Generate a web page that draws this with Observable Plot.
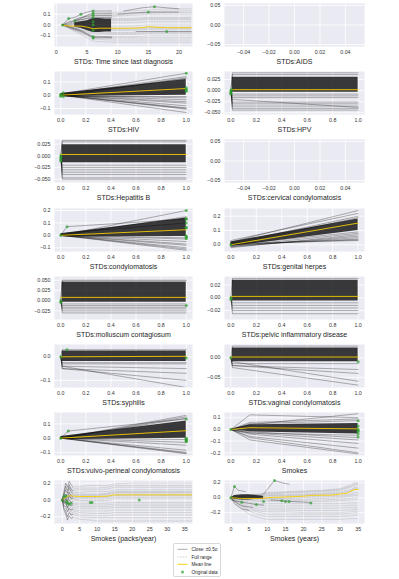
<!DOCTYPE html>
<html><head><meta charset="utf-8">
<script src="https://cdn.jsdelivr.net/npm/d3@7"></script>
<script src="https://cdn.jsdelivr.net/npm/@observablehq/plot@0.6"></script>
<style>
html,body{margin:0;padding:0;background:#fff}
#root{position:relative;width:399px;height:579px;overflow:hidden;font-family:"Liberation Sans",Arial,sans-serif;color:#262626}
.panel{position:absolute}
.legend{position:absolute;left:173px;top:543px;width:48px;height:34px;box-sizing:border-box;border:0.6px solid #d8d8d8;border-radius:2px;background:#fff}
</style></head>
<body><div id="root"></div>
<script>
// ---------------- DATA ----------------
// Panel: STDs: Time since last diagnosis
const timeGrid = [1,2,3,4,5,6,9,12,15,18,22];
const timeFull = [
  [0,0.02,0.04,0.07,0.09,0.10,0.11,0.13,0.14,0.15,0.15],
  [0,0.02,0.03,0.05,0.07,0.09,0.10,0.11,0.12,0.13,0.13],
  [0,0.015,0.035,0.05,0.065,0.08,0.09,0.10,0.11,0.115,0.115],
  [0,0.01,0.03,0.04,0.06,0.07,0.08,0.09,0.10,0.10,0.10],
  [0,0.01,0.02,0.03,0.04,0.05,0.06,0.06,0.07,0.07,0.07],
  [0,0.005,0.015,0.02,0.025,0.04,0.05,0.05,0.06,0.06,0.06],
  [0,0.01,0.01,0.02,0.03,0.03,0.04,0.04,0.05,0.05,0.05],
  [0,0.00,0.01,0.01,0.01,0.02,0.02,0.02,0.03,0.03,0.03],
  [0,0.00,0.00,0.00,0.00,-0.01,-0.01,-0.01,0.00,0.00,0.00],
  [0,-0.01,-0.01,-0.02,-0.02,-0.03,-0.03,-0.03,-0.02,-0.02,-0.02],
  [0,-0.005,-0.015,-0.025,-0.03,-0.04,-0.04,-0.04,-0.03,-0.03,-0.03],
  [0,-0.01,-0.02,-0.03,-0.04,-0.05,-0.05,-0.05,-0.04,-0.04,-0.04],
  [0,-0.01,-0.03,-0.04,-0.05,-0.06,-0.07,-0.07,-0.06,-0.06,-0.06],
  [0,-0.015,-0.035,-0.05,-0.06,-0.07,-0.08,-0.08,-0.07,-0.07,-0.07],
  [0,-0.02,-0.04,-0.05,-0.07,-0.08,-0.09,-0.09,-0.08,-0.08,-0.08],
  [0,-0.02,-0.04,-0.06,-0.08,-0.10,-0.11,-0.11,-0.10,-0.10,-0.10],
  [0,-0.03,-0.05,-0.07,-0.09,-0.11,-0.12,-0.12,-0.12,-0.12,-0.12],
  [0,-0.025,-0.05,-0.08,-0.10,-0.13,-0.14,-0.14,-0.14,-0.14,-0.14],
  [0,-0.03,-0.06,-0.09,-0.12,-0.15,-0.16,-0.16,-0.16,-0.16,-0.16]
];
const timeClose = [
  [[1,0],[2,0.06],[3,0.07],[4,0.10],[5,0.12],[6,0.13],[7,0.13],[9,0.13]],
  [[1,0],[2,0.03],[3,0.04],[4,0.06],[5,0.09],[6,0.11],[7,0.11],[9,0.11]],
  [[3,0.05],[4,0.07],[5,0.08],[6,0.09],[7,0.09],[9,0.09]],
  [[3,0.04],[4,0.05],[5,0.06],[6,0.07],[7,0.07],[9,0.07]],
  [[1,0],[2,-0.01],[3,-0.03],[4,-0.05],[5,-0.08],[6,-0.11],[7,-0.11],[9,-0.11]],
  [[1,0],[2,-0.02],[3,-0.04],[4,-0.06],[5,-0.09],[6,-0.12],[7,-0.12],[9,-0.12]],
  [[10,0.10],[12,0.11],[15,0.12],[18,0.12],[20,0.12]],
  [[11,0.13],[14,0.16],[16,0.17],[18,0.16],[20,0.15]],
  [[13,-0.06],[16,-0.06],[18,-0.06],[22,-0.06]]
];
const timeBandX  = [3,4,5,6,7,8,9];
const timeBandLo = [-0.02,-0.03,-0.05,-0.07,-0.07,-0.065,-0.065];
const timeBandHi = [0.02,0.03,0.04,0.06,0.06,0.055,0.055];
const timeMean = [[1,0],[2,-0.01],[3,-0.01],[4,-0.01],[5,-0.02],[6,-0.035],[7,-0.03],[9,-0.03],[12,-0.03],[14,-0.025],[15,-0.015],[16,-0.02],[18,-0.025],[22,-0.025]];
const timeDots = [[1,0],[2,0.06],[3,0.04],[4,0.10],[6,0.13],[6,0.11],[6,0.09],[6,0.07],[6,0.03],[6,0],[6,-0.05],[6,-0.11],[6,-0.12],[15,0.12],[16,0.17],[18,-0.06]];

// Binary features: straight ICE lines from x=0 to x=1
const hivStart = [0.01,0.005,0,-0.005,-0.01,0,0,0,0,0,0,0,0,0];
const hivEnd   = [0.165,0.14,0.13,0.125,-0.01,-0.02,-0.035,-0.05,-0.06,-0.08,-0.095,-0.10,-0.105,-0.13];
const hivBandLo = [-0.01,0.0];
const hivBandHi = [0.012,0.118];
const hivMean = [[0,0],[1,0.05]];
const hivDots = [[0,0.005],[0,0],[0,-0.008],[0.02,0.018],[0.02,-0.01],[1,0.165],[1,0.055],[1,0.045],[1,0.035],[1,0.03]];

const hpvLevel = [0.04,0.036,-0.008,-0.012,-0.016,-0.02,-0.026,-0.03,-0.035,-0.04,-0.044];
const hpvEnd   = [0.04,0.036,-0.008,-0.012,-0.016,-0.038,-0.026,-0.03,-0.035,-0.04,-0.044];
const hpvBandLo = [-0.004,-0.004];
const hpvBandHi = [0.03,0.03];
const hpvMean = [[0,0.002],[1,0.002]];
const hpvDots = [[0,0],[0,-0.003],[0,-0.006],[0,-0.008],[0.005,0.002]];

const hepLevel = [0.033,0.03,-0.02,-0.025,-0.03,-0.035,-0.04,-0.047,-0.05];
const hepEnd   = [0.033,0.03,-0.02,-0.025,-0.03,-0.035,-0.04,-0.047,-0.05];
const hepBandLo = [-0.015,-0.015];
const hepBandHi = [0.024,0.024];
const hepMean = [[0,0.003],[1,0.003]];
const hepDots = [[0,0],[0,-0.004],[0,-0.008],[0,-0.011]];

const condStart = [0,0,0,0,0,0,0,0,0,0];
const condEnd   = [0.2,0.15,-0.02,-0.03,-0.05,-0.07,-0.08,-0.1,-0.11,-0.12];
const condBandLo = [-0.012,-0.01];
const condBandHi = [0.012,0.14];
const condKink = [[[0,0],[0.05,0.07],[1,0.13]],[[0,0],[0.05,0.02],[1,0.1]]];
const condMean = [[0,0],[1,0.045]];
const condDots = [[0,0],[0.05,0.07],[1,0.2],[1,0.135],[1,0.13],[1,0.1],[1,0.065],[1,0.06],[1,-0.005],[1,-0.01],[1,-0.02],[1,-0.025]];

const herpStart = [0.02,0.03,0.01,0,0,-0.01,-0.02,-0.015,-0.01,0,0.01,0];
const herpEnd   = [0.24,0.22,0.2,0.19,0.09,0.08,0.07,0.06,0.05,0.04,0.03,0.035];
const herpBandLo = [-0.012,0.1];
const herpBandHi = [0.02,0.18];
const herpMean = [[0,0],[1,0.152]];
const herpDots = [[0,0]];

const mollLevel = [0.05,0.048,-0.008,-0.012,-0.016,-0.02,-0.025,-0.03];
const mollEnd   = [0.05,0.048,-0.008,-0.012,-0.016,-0.02,-0.025,-0.03];
const mollBandLo = [-0.004,-0.004];
const mollBandHi = [0.045,0.045];
const mollMean = [[0,0.008],[1,0.008]];
const mollDots = [[0,0],[0,-0.004],[1,-0.012]];

const pelvLevel = [0.03,-0.008,-0.012,-0.016,-0.02,-0.025];
const pelvEnd   = [0.03,-0.008,-0.012,-0.016,-0.02,-0.025];
const pelvBandLo = [-0.005,-0.005];
const pelvBandHi = [0.027,0.027];
const pelvMean = [[0,0.002],[1,0.002]];
const pelvDots = [[0,0],[0,-0.003]];

const syphLevel = [0.03,-0.025,-0.03,-0.04,-0.05,-0.05,-0.04];
const syphEnd   = [0.03,-0.025,-0.03,-0.05,-0.07,-0.1,-0.13];
const syphBandLo = [-0.02,-0.02];
const syphBandHi = [0.025,0.025];
const syphMean = [[0,0],[1,0.002]];
const syphDots = [[0,0],[0.05,0.03],[1,-0.005]];

const vagLevel = [0.03,-0.015,-0.02,-0.02,-0.01,-0.025];
const vagEnd   = [0.03,-0.015,-0.03,-0.04,-0.06,-0.07];
const vagBandLo = [-0.01,-0.01];
const vagBandHi = [0.025,0.025];
const vagMean = [[0,0.002],[1,0.002]];
const vagDots = [[0,0],[1,-0.01]];

const vulvStart = [0,0,0,0,0,0,0,0,0,0];
const vulvEnd   = [0.16,0.15,0.14,-0.01,-0.03,-0.05,-0.085,-0.1,-0.11,-0.105];
const vulvBandLo = [-0.01,0.0];
const vulvBandHi = [0.012,0.12];
const vulvKink = [[[0,0],[0.06,0.05],[1,0.135]]];
const vulvMean = [[0,0],[1,0.052]];
const vulvDots = [[0,0],[0.06,0.05],[1,0.135],[1,0],[1,-0.005],[1,-0.01],[1,-0.015],[1,-0.02],[1,-0.025]];

// Smokes (kink at 0.15)
const smokeX = [0,0.15,1];
const smokeLines = [
  [0,0.125,0.1],[0,0.04,0.135],[0,0.06,0.09],[0,0.05,0.075],[0,-0.02,-0.07],
  [0,-0.03,-0.09],[0,-0.04,-0.12],[0,-0.06,-0.16],[0,-0.07,-0.2],[0,-0.09,-0.21],[0,-0.03,-0.05]
];
const smokeBandLo = [0,-0.02,-0.04];
const smokeBandHi = [0,0.04,0.05];
const smokeMean = [[0,0],[0.15,0.015],[1,0.005]];
const smokeDots = [[0,0],[1,0.075],[1,0.03],[1,0],[1,-0.01],[1,-0.02],[1,-0.04],[1,-0.065]];

// Smokes (packs/year)
const packGrid = [0,1,2,3,5,8,10,13,15,20,25,30,37];
const packFull = [
  [0,0.05,0.12,0.15,0.16,0.17,0.17,0.17,0.19,0.2,0.2,0.2,0.2],
  [0,0.04,0.1,0.13,0.14,0.14,0.14,0.15,0.17,0.17,0.17,0.17,0.17],
  [0,0.04,0.09,0.11,0.12,0.12,0.12,0.13,0.15,0.15,0.15,0.15,0.15],
  [0,0.03,0.07,0.09,0.09,0.1,0.1,0.1,0.12,0.12,0.12,0.12,0.12],
  [0,0.03,0.06,0.07,0.07,0.07,0.07,0.08,0.1,0.1,0.1,0.1,0.1],
  [0,0.02,0.05,0.06,0.06,0.06,0.06,0.07,0.09,0.09,0.09,0.09,0.09],
  [0,0.02,0.04,0.05,0.05,0.05,0.05,0.06,0.08,0.08,0.08,0.08,0.08],
  [0,0.01,0.03,0.03,0.03,0.03,0.03,0.04,0.06,0.06,0.06,0.06,0.06],
  [0,0.01,0.02,0.02,0.02,0.02,0.02,0.03,0.05,0.05,0.05,0.05,0.05],
  [0,0,0.01,0.01,0,0,0,0.01,0.03,0.03,0.03,0.03,0.03],
  [0,0,0,0,-0.01,-0.01,-0.01,-0.01,0.01,0.01,0.01,0.01,0.01],
  [0,-0.01,-0.03,-0.04,-0.04,-0.04,-0.04,-0.04,-0.03,-0.03,-0.03,-0.03,-0.03],
  [0,-0.02,-0.04,-0.05,-0.06,-0.06,-0.06,-0.06,-0.05,-0.05,-0.05,-0.05,-0.05],
  [0,-0.02,-0.05,-0.07,-0.08,-0.08,-0.08,-0.08,-0.07,-0.07,-0.07,-0.07,-0.07],
  [0,-0.03,-0.06,-0.09,-0.1,-0.1,-0.1,-0.1,-0.09,-0.09,-0.09,-0.09,-0.09],
  [0,-0.03,-0.08,-0.11,-0.13,-0.13,-0.13,-0.13,-0.12,-0.12,-0.12,-0.12,-0.12],
  [0,-0.04,-0.1,-0.13,-0.15,-0.16,-0.16,-0.16,-0.15,-0.15,-0.15,-0.15,-0.15],
  [0,-0.04,-0.11,-0.15,-0.18,-0.19,-0.19,-0.19,-0.18,-0.18,-0.18,-0.18,-0.18],
  [0,-0.05,-0.12,-0.17,-0.2,-0.21,-0.21,-0.21,-0.21,-0.21,-0.21,-0.21,-0.21],
  [0,-0.05,-0.14,-0.2,-0.23,-0.24,-0.25,-0.25,-0.25,-0.25,-0.25,-0.25,-0.25]
];
const packCloseGrid = [0,0.5,1,1.5,2,2.5,3];
const packClose = [
  [0,0.1,0.2,0.15,0.22,0.18,0.16],
  [0,0.07,0.16,0.11,0.18,0.13,0.11],
  [0,0.05,0.12,0.08,0.15,0.1,0.08],
  [0,0.03,0.07,0.03,0.09,0.05,0.04],
  [0,0.02,0.04,-0.02,0.05,0.02,0.02],
  [0,-0.02,0.01,-0.05,0,-0.03,-0.02],
  [0,-0.04,-0.03,-0.09,-0.05,-0.07,-0.06],
  [0,-0.07,-0.08,-0.14,-0.1,-0.12,-0.11],
  [0,-0.1,-0.13,-0.2,-0.15,-0.18,-0.17],
  [0,-0.12,-0.17,-0.24,-0.19,-0.22,-0.21]
];
const packMean = [[0,0],[1,0.03],[2,0.05],[3,0.045],[5,0.04],[10,0.04],[13,0.045],[15,0.06],[20,0.06],[37,0.06]];
const packDots = [[0,0],[0.5,0.04],[1,0.05],[1.2,-0.02],[1.5,-0.04],[2,-0.05],[2.5,-0.04],[8,-0.03],[8.5,-0.03],[22,0]];

// Smokes (years)
const yearGrid = [0,2,5,8,10,15,20,25,30,33,34,35];
const yearFull = [
  [0,0.02,0.04,0.05,0.07,0.08,0.09,0.1,0.12,0.17,0.2,0.2],
  [0,0.015,0.035,0.045,0.06,0.07,0.08,0.09,0.11,0.155,0.185,0.185],
  [0,0.01,0.03,0.04,0.05,0.06,0.07,0.08,0.1,0.14,0.17,0.17],
  [0,0.01,0.02,0.03,0.04,0.04,0.05,0.06,0.08,0.11,0.14,0.14],
  [0,0.005,0.015,0.02,0.03,0.03,0.04,0.05,0.065,0.095,0.125,0.125],
  [0,0,0.01,0.01,0.02,0.02,0.03,0.04,0.05,0.08,0.11,0.11],
  [0,0,0,0,0,0,0.01,0.02,0.03,0.05,0.07,0.07],
  [0,-0.005,-0.01,-0.01,-0.01,-0.01,0,0.005,0.015,0.035,0.05,0.05],
  [0,-0.01,-0.02,-0.02,-0.02,-0.02,-0.02,-0.01,0,0.02,0.03,0.03],
  [0,-0.015,-0.03,-0.035,-0.035,-0.035,-0.035,-0.03,-0.02,-0.005,0.005,0.005],
  [0,-0.02,-0.04,-0.05,-0.05,-0.05,-0.05,-0.05,-0.04,-0.03,-0.02,-0.02],
  [0,-0.03,-0.06,-0.08,-0.08,-0.08,-0.08,-0.08,-0.08,-0.07,-0.07,-0.07],
  [0,-0.04,-0.08,-0.1,-0.11,-0.11,-0.11,-0.11,-0.11,-0.1,-0.1,-0.1],
  [0,-0.05,-0.1,-0.13,-0.14,-0.14,-0.14,-0.14,-0.14,-0.13,-0.13,-0.13],
  [0,-0.06,-0.12,-0.16,-0.165,-0.165,-0.17,-0.17,-0.17,-0.16,-0.155,-0.155],
  [0,-0.07,-0.14,-0.18,-0.19,-0.19,-0.2,-0.2,-0.2,-0.19,-0.18,-0.18],
  [0,-0.08,-0.16,-0.2,-0.22,-0.22,-0.22,-0.22,-0.22,-0.21,-0.2,-0.2],
  [0,-0.09,-0.18,-0.23,-0.25,-0.25,-0.25,-0.25,-0.25,-0.24,-0.23,-0.23],
  [0,-0.11,-0.22,-0.27,-0.29,-0.29,-0.29,-0.29,-0.29,-0.28,-0.28,-0.28]
];
const yearClose = [
  [[0,0],[1,0.15],[2,0.1],[4,0.08]],
  [[0,0],[1,-0.05],[3,-0.11],[6,-0.13]],
  [[0,0],[1,-0.08],[3,-0.15],[5,-0.17]],
  [[9,0.05],[12,0.23],[14,0.2],[16,0.18]],
  [[0,-0.03],[3,-0.06],[7,-0.09],[9,-0.1]],
  [[11,-0.03],[14,-0.04],[16,-0.05],[20,-0.06],[22,-0.07]]
];
const yearBandX  = [0,1,3,5,7,9];
const yearBandLo = [0,-0.02,-0.03,-0.03,-0.02,-0.02];
const yearBandHi = [0,0.03,0.04,0.04,0.03,0.02];
const yearMean = [[0,0],[3,-0.01],[8,-0.01],[10,0],[15,0.01],[20,0.02],[22,0.03],[28,0.035],[30,0.05],[32,0.06],[34,0.11],[35,0.11]];
const yearDots = [[0,0],[1,0.15],[3,-0.06],[7,-0.09],[9,-0.05],[12,0.23],[14,-0.04],[15,-0.05],[16,-0.05],[22,-0.07]];

// Tick labels
const binTicks = [0,0.2,0.4,0.6,0.8,1.0];
const emptyTicks = [-0.04,-0.02,0,0.02,0.04];

// ---------------- HELPERS ----------------
const gridRows = (xs, list) => list.flatMap((ys, i) => ys.map((y, j) => ({id: i, x: xs[j], y})));
const pathRows = (paths) => paths.flatMap((p, i) => p.map(([x, y]) => ({id: i, x, y})));
const segRows = (starts, ends) => starts.flatMap((s, i) => [{id: i, x: 0, y: s}, {id: i, x: 1, y: ends[i]}]);
const stepRows = (levels, ends) => levels.flatMap((l, i) => [{id: i, x: 0, y: 0}, {id: i, x: 0.012, y: l}, {id: i, x: 1, y: ends[i]}]);
const bandRows = (xs, lo, hi) => xs.map((x, i) => ({id: 0, x, lo: lo[i], hi: hi[i]}));
const ptRows = (pts) => pts.map(([x, y]) => ({x, y}));

const ROWH = 68.2;
function panel(o) {
  const left = o.col === 0;
  const marks = [
    Plot.frame({fill: "#EAEAF2", stroke: null}),
    Plot.gridX(o.xTicks, {stroke: "white", strokeOpacity: 1, strokeWidth: 0.8}),
    Plot.gridY(o.yTicks, {stroke: "white", strokeOpacity: 1, strokeWidth: 0.8})
  ];
  if (o.full) marks.push(Plot.line(o.full, {x: "x", y: "y", z: "id", stroke: "#7a7a7a", strokeOpacity: 0.5, strokeWidth: 0.5, strokeDasharray: "1.6,1.1", clip: true}));
  if (o.band) marks.push(Plot.areaY(o.band, {x: "x", y1: "lo", y2: "hi", z: "id", fill: "#111", fillOpacity: 0.82, clip: true}));
  if (o.close) marks.push(Plot.line(o.close, {x: "x", y: "y", z: "id", stroke: "#000", strokeOpacity: 0.55, strokeWidth: 0.55, clip: true}));
  if (o.mean) marks.push(Plot.line(o.mean, {x: "x", y: "y", stroke: "#F5CC00", strokeWidth: 0.9, clip: true}));
  if (o.dots) marks.push(Plot.dot(o.dots, {x: "x", y: "y", r: 1.5, fill: "#2ca02c", fillOpacity: 0.7, stroke: null}));
  marks.push(
    Plot.axisX(o.xTicks, {tickSize: 0, tickPadding: 3.5, tickFormat: o.xFmt, fontSize: 5.3, label: null}),
    Plot.axisY(o.yTicks, {tickSize: 0, tickPadding: 4, tickFormat: o.yFmt, fontSize: 5.3, label: null}),
    Plot.text([o.label], {text: d => d, frameAnchor: "bottom", lineAnchor: "middle", dy: 15.5, fontSize: 7, fill: "#262626"})
  );
  const svg = Plot.plot({
    width: left ? 200 : 199, height: 68,
    marginTop: 3, marginBottom: 22, marginLeft: left ? 54 : 24, marginRight: left ? 8 : 35,
    x: {domain: o.xDomain}, y: {domain: o.yDomain},
    style: {background: "transparent", fontFamily: "Liberation Sans, Arial, sans-serif", fontSize: "5.3px", color: "#333", overflow: "visible"},
    marks
  });
  const div = document.createElement("div");
  div.className = "panel";
  div.style.left = (left ? 0 : 200) + "px";
  div.style.top = (o.row * ROWH) + "px";
  div.appendChild(svg);
  document.getElementById("root").appendChild(div);
}

const f1 = d3.format(".1f"), f2 = d3.format(".2f"), f3 = d3.format(".3f"), f0 = d3.format("d");
const binX = [-0.05, 1.05];

panel({row: 0, col: 0, label: "STDs: Time since last diagnosis", xDomain: [-0.3, 22.2], yDomain: [-0.2, 0.2],
  xTicks: [0,5,10,15,20], yTicks: [-0.1,0,0.1], xFmt: f0, yFmt: f1,
  full: gridRows(timeGrid, timeFull), band: bandRows(timeBandX, timeBandLo, timeBandHi),
  close: pathRows(timeClose), mean: ptRows(timeMean), dots: ptRows(timeDots)});
panel({row: 0, col: 1, label: "STDs:AIDS", xDomain: [-0.055, 0.055], yDomain: [-0.055, 0.055],
  xTicks: emptyTicks, yTicks: [-0.05,0,0.05], xFmt: f2, yFmt: f2});
panel({row: 1, col: 0, label: "STDs:HIV", xDomain: binX, yDomain: [-0.145, 0.178],
  xTicks: binTicks, yTicks: [-0.1,0,0.1], xFmt: f1, yFmt: f1,
  band: bandRows([0,1], hivBandLo, hivBandHi), close: segRows(hivStart, hivEnd), mean: ptRows(hivMean), dots: ptRows(hivDots)});
panel({row: 1, col: 1, label: "STDs:HPV", xDomain: binX, yDomain: [-0.054, 0.043],
  xTicks: binTicks, yTicks: [-0.05,-0.025,0,0.025], xFmt: f1, yFmt: f3,
  band: bandRows([0.012,1], hpvBandLo, hpvBandHi), close: stepRows(hpvLevel, hpvEnd), mean: ptRows(hpvMean), dots: ptRows(hpvDots)});
panel({row: 2, col: 0, label: "STDs:Hepatitis B", xDomain: binX, yDomain: [-0.057, 0.035],
  xTicks: binTicks, yTicks: [-0.05,-0.025,0,0.025], xFmt: f1, yFmt: f3,
  band: bandRows([0.012,1], hepBandLo, hepBandHi), close: stepRows(hepLevel, hepEnd), mean: ptRows(hepMean), dots: ptRows(hepDots)});
panel({row: 2, col: 1, label: "STDs:cervical condylomatosis", xDomain: [-0.055, 0.055], yDomain: [-0.055, 0.055],
  xTicks: emptyTicks, yTicks: [-0.05,0,0.05], xFmt: f2, yFmt: f2});
panel({row: 3, col: 0, label: "STDs:condylomatosis", xDomain: binX, yDomain: [-0.13, 0.216],
  xTicks: binTicks, yTicks: [-0.1,0,0.1,0.2], xFmt: f1, yFmt: f1,
  band: bandRows([0,1], condBandLo, condBandHi), close: segRows(condStart, condEnd).concat(pathRows(condKink).map(d => ({...d, id: d.id + 100}))),
  mean: ptRows(condMean), dots: ptRows(condDots)});
panel({row: 3, col: 1, label: "STDs:genital herpes", xDomain: binX, yDomain: [-0.047, 0.254],
  xTicks: binTicks, yTicks: [0,0.1,0.2], xFmt: f1, yFmt: f1,
  band: bandRows([0,1], herpBandLo, herpBandHi), close: segRows(herpStart, herpEnd), mean: ptRows(herpMean), dots: ptRows(herpDots)});
panel({row: 4, col: 0, label: "STDs:molluscum contagiosum", xDomain: binX, yDomain: [-0.046, 0.059],
  xTicks: binTicks, yTicks: [-0.025,0,0.025,0.05], xFmt: f1, yFmt: f3,
  band: bandRows([0.012,1], mollBandLo, mollBandHi), close: stepRows(mollLevel, mollEnd), mean: ptRows(mollMean), dots: ptRows(mollDots)});
panel({row: 4, col: 1, label: "STDs:pelvic inflammatory disease", xDomain: binX, yDomain: [-0.034, 0.033],
  xTicks: binTicks, yTicks: [-0.02,0,0.02], xFmt: f1, yFmt: f2,
  band: bandRows([0.012,1], pelvBandLo, pelvBandHi), close: stepRows(pelvLevel, pelvEnd), mean: ptRows(pelvMean), dots: ptRows(pelvDots)});
panel({row: 5, col: 0, label: "STDs:syphilis", xDomain: binX, yDomain: [-0.13, 0.052],
  xTicks: binTicks, yTicks: [-0.1,0], xFmt: f1, yFmt: f1,
  band: bandRows([0.012,1], syphBandLo, syphBandHi), close: stepRows(syphLevel, syphEnd), mean: ptRows(syphMean), dots: ptRows(syphDots)});
panel({row: 5, col: 1, label: "STDs:vaginal condylomatosis", xDomain: binX, yDomain: [-0.076, 0.034],
  xTicks: binTicks, yTicks: [-0.05,0], xFmt: f1, yFmt: f2,
  band: bandRows([0.012,1], vagBandLo, vagBandHi), close: stepRows(vagLevel, vagEnd), mean: ptRows(vagMean), dots: ptRows(vagDots)});
panel({row: 6, col: 0, label: "STDs:vulvo-perineal condylomatosis", xDomain: binX, yDomain: [-0.122, 0.18],
  xTicks: binTicks, yTicks: [-0.1,0,0.1], xFmt: f1, yFmt: f1,
  band: bandRows([0,1], vulvBandLo, vulvBandHi), close: segRows(vulvStart, vulvEnd).concat(pathRows(vulvKink).map(d => ({...d, id: d.id + 100}))),
  mean: ptRows(vulvMean), dots: ptRows(vulvDots)});
panel({row: 6, col: 1, label: "Smokes", xDomain: binX, yDomain: [-0.223, 0.145],
  xTicks: binTicks, yTicks: [-0.2,-0.1,0,0.1], xFmt: f1, yFmt: f1,
  band: bandRows(smokeX, smokeBandLo, smokeBandHi), close: gridRows(smokeX, smokeLines), mean: ptRows(smokeMean), dots: ptRows(smokeDots)});
panel({row: 7, col: 0, label: "Smokes (packs/year)", xDomain: [-2.2, 37.2], yDomain: [-0.28, 0.23],
  xTicks: [0,5,10,15,20,25,30,35], yTicks: [-0.2,0,0.2], xFmt: f0, yFmt: f1,
  full: gridRows(packGrid, packFull), close: gridRows(packCloseGrid, packClose), mean: ptRows(packMean), dots: ptRows(packDots)});
panel({row: 7, col: 1, label: "Smokes (years)", xDomain: [-1.75, 36.75], yDomain: [-0.345, 0.23],
  xTicks: [0,5,10,15,20,25,30,35], yTicks: [-0.2,0,0.2], xFmt: f0, yFmt: f1,
  full: gridRows(yearGrid, yearFull), band: bandRows(yearBandX, yearBandLo, yearBandHi), close: pathRows(yearClose), mean: ptRows(yearMean), dots: ptRows(yearDots)});

// ---------------- LEGEND ----------------
const legendItems = ["Close: \u00b10.5\u03c3", "Full range", "Mean line", "Original data"];
const lg = document.createElement("div");
lg.className = "legend";
lg.innerHTML = `<svg width="48" height="34" style="display:block;font-family:Liberation Sans, Arial, sans-serif">
  <line x1="3.5" x2="13.5" y1="5.3" y2="5.3" stroke="#000" stroke-opacity="0.55" stroke-width="0.6"/>
  <line x1="3.5" x2="13.5" y1="13" y2="13" stroke="#7a7a7a" stroke-opacity="0.6" stroke-width="0.6" stroke-dasharray="1.6,1.1"/>
  <line x1="3.5" x2="13.5" y1="20.3" y2="20.3" stroke="#F5CC00" stroke-width="0.9"/>
  <circle cx="8.5" cy="28" r="1.5" fill="#2ca02c" fill-opacity="0.7"/>
  ${legendItems.map((t, i) => `<text x="17.5" y="${[5.3,13,20.3,28][i]}" dy="0.35em" font-size="4.6" fill="#262626">${t}</text>`).join("")}
</svg>`;
document.getElementById("root").appendChild(lg);
</script>
</body></html>
